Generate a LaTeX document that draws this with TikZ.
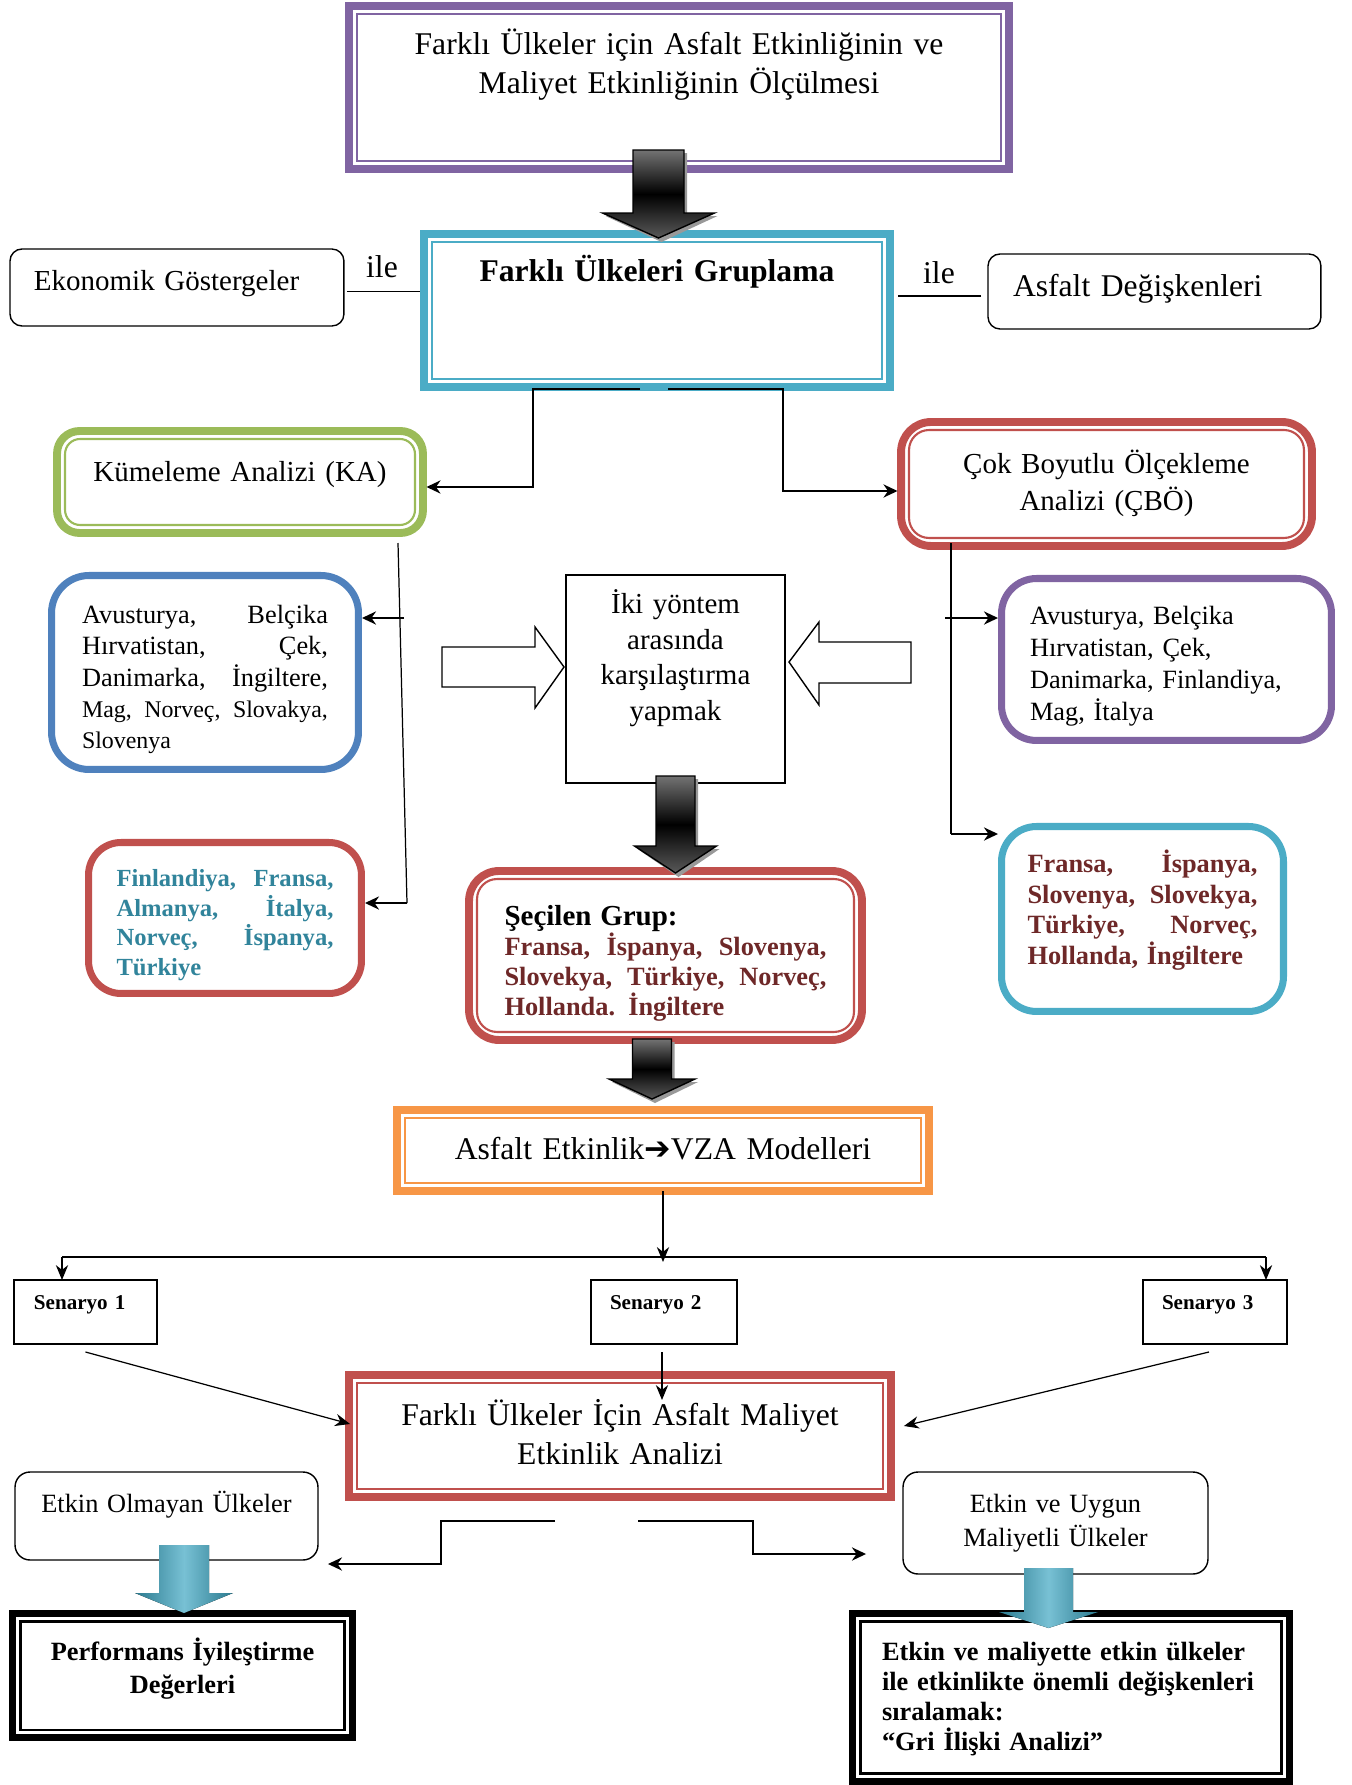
\documentclass[tikz,border=0pt]{standalone}
\usepackage{fontspec}
\setmainfont{Liberation Serif}
\newfontfamily\okyazi{DejaVu Sans}
\usetikzlibrary{arrows.meta,calc}

\definecolor{renkmor}{HTML}{8064A2}
\definecolor{renkturkuaz}{HTML}{4BACC6}
\definecolor{renkturkuazkoyu}{HTML}{2B7A8F}
\definecolor{renkyesil}{HTML}{9BBB59}
\definecolor{renkkirmizi}{HTML}{C0504D}
\definecolor{renkmavi}{HTML}{4F81BD}
\definecolor{renkturuncu}{HTML}{F79646}
\definecolor{yazimavi}{HTML}{31849B}
\definecolor{yazikirmizi}{HTML}{6E2828}

\tikzstyle{bant} = [line width=4.5pt, fill=white, inner sep=0pt, outer sep=0pt, anchor=north]
\tikzstyle{liste} = [line width=4pt, fill=white, inner ysep=0pt, outer sep=0pt, anchor=north, align=left]
\tikzstyle{cizgi} = [draw, line width=0.8pt, fill=white, inner sep=0pt, outer sep=0pt, anchor=north]
\tikzstyle{ok} = [-{Stealth[length=8pt,width=7.5pt]}, line width=1.1pt]
\tikzstyle{bantok} = [ok, shorten >=2pt]
\tikzstyle{inceok} = [-{Stealth[length=8.5pt,width=7pt]}, line width=0.7pt]
\tikzstyle{iccizgi} = [line width=1.2pt]

% kalin gri ok: orta x, ust, bas, uc, govde yarim, bas yarim
\newcommand{\koyuok}[6]{%
  \fill[black!40] (#1-#5+3,#2+3) -- (#1+#5+3,#2+3) -- (#1+#5+3,#3+3) -- (#1+#6+3,#3+3)
    -- (#1+3,#4+4) -- (#1-#6+3,#3+3) -- (#1-#5+3,#3+3) -- cycle;
  \draw[line width=0.8pt, top color=black!55, bottom color=black!65, middle color=black]
    (#1-#5,#2) -- (#1+#5,#2) -- (#1+#5,#3) -- (#1+#6,#3) -- (#1,#4) -- (#1-#6,#3) -- (#1-#5,#3) -- cycle;
}
% turkuaz ok
\newcommand{\mavik}[6]{%
  \fill[left color=renkturkuazkoyu, right color=renkturkuazkoyu, middle color=renkturkuaz!75!white]
    (#1-#5,#2) -- (#1+#5,#2) -- (#1+#5,#3) -- (#1+#6,#3) -- (#1,#4) -- (#1-#6,#3) -- (#1-#5,#3) -- cycle;
}

\begin{document}
\begin{tikzpicture}[x=0.02cm, y=-0.02cm]
\useasboundingbox (0,0) rectangle (1352,1785);

% baslik ve gruplama
\node[bant, draw=renkmor, text width=13.2cm, align=center, text height=0.98cm, text depth=2.28cm,
      font=\fontsize{18}{22.2}\selectfont] (olcum) at (679,6)
      {Farklı Ülkeler için Asfalt Etkinliğinin ve\\ Maliyet Etkinliğinin Ölçülmesi};
\node[bant, draw=renkturkuaz, text width=9.32cm, align=center, text height=0.96cm, text depth=2.1cm,
      font=\bfseries\fontsize{18}{22}\selectfont] (grup) at (657,234) {Farklı Ülkeleri Gruplama};
\node[cizgi, rounded corners=0.24cm, anchor=north west, inner xsep=0.48cm, text width=5.72cm, align=left,
      text height=0.84cm, text depth=0.7cm, font=\fontsize{16.5}{20}\selectfont] (ekonomik) at (10,249)
      {Ekonomik Göstergeler};
\node[cizgi, rounded corners=0.24cm, anchor=north west, inner xsep=0.5cm, text width=5.66cm, align=left,
      text height=0.86cm, text depth=0.64cm, font=\fontsize{18}{22}\selectfont] (asfaltdeg) at (988,254)
      {Asfalt Değişkenleri};
\node[anchor=base, font=\fontsize{18}{22}\selectfont] (ile1) at (382,277) {ile};
\node[anchor=base, font=\fontsize{18}{22}\selectfont] (ile2) at (939,283) {ile};

% yontemler
\node[bant, draw=renkyesil, rounded corners=0.45cm, text width=7.32cm, align=center, text height=1.01cm,
      text depth=1.03cm, font=\fontsize{16.5}{20}\selectfont] (ka) at (240,431) {Kümeleme Analizi (KA)};
\node[bant, draw=renkkirmizi, rounded corners=0.6cm, text width=8.22cm, align=center, text height=1.03cm,
      text depth=1.45cm, font=\fontsize{16.5}{21}\selectfont] (cbo) at (1106.5,422)
      {Çok Boyutlu Ölçekleme\\ Analizi (ÇBÖ)};

% kume listeleri
\node[liste, draw=renkmavi, rounded corners=0.75cm, inner xsep=0.61cm, text width=4.92cm,
      text height=0.96cm, text depth=2.92cm, font=\fontsize{15}{17.8}\selectfont] (kaliste1) at (205,575.5)
      {Avusturya,\hfill Belçika\\ Hırvatistan,\hfill Çek,\\ Danimarka,\hfill İngiltere,\\
       {\fontsize{13.6}{17.8}\selectfont Mag,\hfill Norveç,\hfill Slovakya,}\\
       {\fontsize{13.6}{17.8}\selectfont Slovenya}};
\node[liste, draw=renkkirmizi, rounded corners=0.65cm, inner xsep=0.56cm, text width=4.34cm,
      text height=0.88cm, text depth=2.14cm, text=yazimavi, font=\bfseries\fontsize{14}{16.9}\selectfont]
      (kaliste2) at (225,842.5)
      {Finlandiya,\hfill Fransa,\\ Almanya,\hfill İtalya,\\ Norveç,\hfill İspanya,\\ Türkiye};
\node[liste, draw=renkmor, rounded corners=0.7cm, inner xsep=0.57cm, text width=5.46cm,
      text height=0.92cm, text depth=2.32cm, font=\fontsize{15}{18.2}\selectfont] (cboliste1) at (1166.5,578.5)
      {Avusturya, Belçika\\ Hırvatistan, Çek,\\ Danimarka, Finlandiya,\\ Mag, İtalya};
\node[liste, draw=renkturkuaz, rounded corners=0.7cm, inner xsep=0.52cm, text width=4.6cm,
      text height=0.92cm, text depth=2.78cm, text=yazikirmizi, font=\bfseries\fontsize{15}{17.5}\selectfont]
      (cboliste2) at (1142.5,826.5)
      {Fransa,\hfill İspanya,\\ Slovenya,\hfill Slovekya,\\ Türkiye,\hfill Norveç,\\ Hollanda, İngiltere};

% karsilastirma ve secilen grup
\node[cizgi, text width=4.38cm, align=center, text height=0.77cm, text depth=3.39cm,
      font=\fontsize{16.5}{20.3}\selectfont] (karsilastir) at (675.5,575)
      {İki yöntem\\ arasında\\ karşılaştırma\\ yapmak};
\node[bant, draw=renkkirmizi, rounded corners=0.6cm, inner xsep=0.71cm, text width=6.44cm, align=left,
      text height=1.08cm, text depth=2.3cm, text=yazikirmizi, font=\bfseries\fontsize{15}{17.1}\selectfont]
      (secilen) at (665.5,871)
      {{\color{black}\fontsize{16.5}{17.1}\selectfont Şeçilen Grup:}\\
       Fransa,\hfill İspanya,\hfill Slovenya,\\ Slovekya,\hfill Türkiye,\hfill Norveç,\\ Hollanda. İngiltere};

% VZA ve senaryolar
\node[bant, draw=renkturuncu, text width=10.64cm, align=center, text height=0.98cm, text depth=0.64cm,
      font=\fontsize{18}{22}\selectfont] (vza) at (663,1110)
      {Asfalt Etkinlik{\okyazi\bfseries ➔}VZA Modelleri};
\node[cizgi, anchor=north west, inner xsep=0.4cm, text width=2.06cm, align=left, text height=0.58cm,
      text depth=0.7cm, font=\bfseries\fontsize{12}{14}\selectfont] (senaryo1) at (14,1280) {Senaryo 1};
\node[cizgi, anchor=north west, inner xsep=0.38cm, text width=2.16cm, align=left, text height=0.58cm,
      text depth=0.7cm, font=\bfseries\fontsize{12}{14}\selectfont] (senaryo2) at (591,1280) {Senaryo 2};
\node[cizgi, anchor=north west, inner xsep=0.38cm, text width=2.12cm, align=left, text height=0.58cm,
      text depth=0.7cm, font=\bfseries\fontsize{12}{14}\selectfont] (senaryo3) at (1143,1280) {Senaryo 3};

% maliyet etkinlik analizi ve sonuclar
\node[bant, draw=renkkirmizi, text width=10.84cm, align=center, text height=1.0cm, text depth=1.44cm,
      font=\fontsize{18}{22.2}\selectfont] (analiz) at (620,1375)
      {Farklı Ülkeler İçin Asfalt Maliyet\\ Etkinlik Analizi};
\node[cizgi, rounded corners=0.3cm, text width=6.06cm, align=center, text height=0.8cm, text depth=0.96cm,
      font=\fontsize{15}{19.9}\selectfont] (etkinolmayan) at (166.5,1472) {Etkin Olmayan Ülkeler};
\node[cizgi, rounded corners=0.3cm, text width=6.1cm, align=center, text height=0.8cm, text depth=1.24cm,
      font=\fontsize{15}{19.9}\selectfont] (etkinuygun) at (1055.5,1472) {Etkin ve Uygun\\ Maliyetli Ülkeler};
\node[bant, draw=black, line width=4pt, text width=6.8cm, align=center, text height=0.94cm, text depth=1.54cm,
      font=\bfseries\fontsize{15}{18.8}\selectfont] (performans) at (182.5,1613.5)
      {Performans İyileştirme\\ Değerleri};
\node[bant, draw=black, line width=4pt, inner xsep=0.59cm, text width=7.56cm, align=left, text height=0.94cm,
      text depth=2.42cm, font=\bfseries\fontsize{15}{17.1}\selectfont] (griiliski) at (1071,1613.5)
      {Etkin ve maliyette etkin ülkeler\\ ile etkinlikte önemli değişkenleri\\ sıralamak:\\ “Gri İlişki Analizi”};

% ic cizgiler
\draw[iccizgi, renkmor] ($(olcum.north west)+(8,8)$) rectangle ($(olcum.south east)+(-8,-8)$);
\draw[iccizgi, renkturkuaz] ($(grup.north west)+(8,8)$) rectangle ($(grup.south east)+(-8,-8)$);
\draw[iccizgi, renkturuncu] ($(vza.north west)+(8,8)$) rectangle ($(vza.south east)+(-8,-8)$);
\draw[iccizgi, renkkirmizi] ($(analiz.north west)+(8,8)$) rectangle ($(analiz.south east)+(-8,-8)$);
\draw[iccizgi, renkyesil, rounded corners=0.3cm] ($(ka.north west)+(8,8)$) rectangle ($(ka.south east)+(-8,-8)$);
\draw[iccizgi, renkkirmizi, rounded corners=0.4cm] ($(cbo.north west)+(8,8)$) rectangle ($(cbo.south east)+(-8,-8)$);
\draw[iccizgi, renkkirmizi, rounded corners=0.4cm] ($(secilen.north west)+(8,8)$) rectangle ($(secilen.south east)+(-8,-8)$);
\draw[line width=1.7pt] ($(performans.north west)+(7.5,7.5)$) rectangle ($(performans.south east)+(-7.5,-7.5)$);
\draw[line width=1.7pt] ($(griiliski.north west)+(7.5,7.5)$) rectangle ($(griiliski.south east)+(-7.5,-7.5)$);

% baglantilar
\draw[line width=1.1pt] ($(ekonomik.east)+(3,4)$) -- ($(grup.west |- ekonomik.east)+(-4,4)$);
\draw[line width=1.1pt] ($(asfaltdeg.west)+(-7,4.5)$) -- ($(grup.east |- asfaltdeg.west)+(8,4.5)$);
\draw[bantok] ($(grup.south)+(-17,2)$) -- ($(grup.south)+(-124,2)$) |- ($(ka.east)+(0,5)$);
\draw[bantok] ($(grup.south)+(11,2)$) -- ($(grup.south)+(126,2)$) |- ($(cbo.west)+(0,7)$);

\coordinate (kaust) at (398,543);
\coordinate (kaalt) at (407,903);
\coordinate (kaok) at (404,618);
\coordinate (cbust) at (951,543);
\coordinate (cbalt) at (951,834);
\coordinate (cbok) at (945,618);
\draw[line width=0.7pt] (kaust) -- (kaalt);
\draw[bantok] (kaok) -- (kaok -| kaliste1.east);
\draw[bantok] (kaalt) -- (kaalt -| kaliste2.east);
\draw[line width=0.7pt] (cbust) -- (cbalt);
\draw[bantok] (cbok) -- (cbok -| cboliste1.west);
\draw[bantok] (cbalt) -- (cbalt -| cboliste2.west);

% bos oklar
\draw[line width=0.8pt, fill=white] (442,647) -- (535,647) -- (535,627) -- (564,667) -- (535,708) -- (535,687) -- (442,687) -- cycle;
\draw[line width=0.8pt, fill=white] (911,642) -- (819,642) -- (819,622) -- (789,662) -- (819,705) -- (819,683) -- (911,683) -- cycle;

% kalin oklar
\koyuok{658.5}{150}{213}{238}{25.5}{56}
\koyuok{675.5}{776}{846}{873}{19.5}{41}
\koyuok{652}{1039}{1079}{1099}{19.5}{43}

% senaryolara dagitim
\coordinate (dagitsol) at (62,1257);
\coordinate (dagitsag) at (1266,1257);
\draw[inceok] (vza.south) -- ++(0,71);
\draw[line width=1.1pt] (dagitsol) -- (dagitsag);
\draw[inceok] (dagitsol) -- (dagitsol |- senaryo1.north);
\draw[inceok] (dagitsag) -- (dagitsag |- senaryo3.north);
\draw[inceok] ($(senaryo1.south)+(0,8)$) -- ($(analiz.west)+(1,-12)$);
\draw[inceok] ($(senaryo2.south)+(-2,8)$) -- ($(senaryo2.south)+(-2,56)$);
\draw[inceok] ($(senaryo3.south)+(-6,8)$) -- ($(analiz.east)+(13,-10)$);

% sonuclara
\draw[ok] ($(analiz.south)+(-65,24)$) -| ($(etkinolmayan.east)+(123,48)$) -- ($(etkinolmayan.east)+(10,48)$);
\draw[ok] ($(analiz.south)+(18,24)$) -| ($(etkinuygun.west)+(-150,31)$) -- ($(etkinuygun.west)+(-37,31)$);

\mavik{184}{1545}{1593}{1613}{25}{49}
\mavik{1048.5}{1568}{1612}{1628}{24.5}{49.5}
\end{tikzpicture}
\end{document}
